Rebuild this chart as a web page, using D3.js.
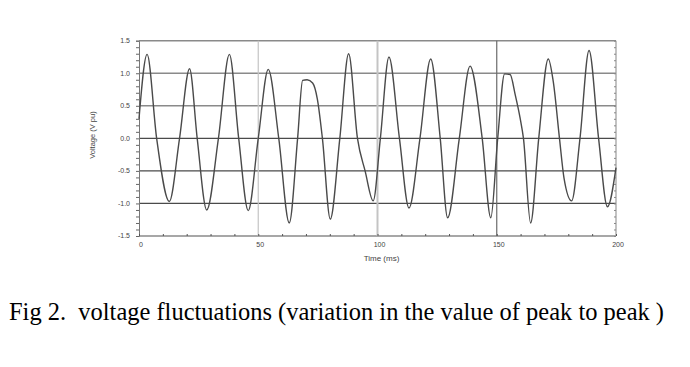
<!DOCTYPE html>
<html lang="en">
<head>
    <title>Voltage fluctuations</title>
    <meta charset="utf-8">
    <style>
        body { margin: 0; background: #fff; }
        .tick-label { font-family: "Liberation Sans", Arial, sans-serif; font-size: 7px; fill: #444; }
        .caption { font-family: "Liberation Serif", "Times New Roman", serif; white-space: pre; fill: #000; }
    </style>
    <script src="https://d3js.org/d3.v7.min.js"></script>
</head>
<body>
<div id="chart"></div>
<script>
    // time (ms) and voltage (V pu): peaks, troughs, crossings and shoulders
    const time = [0, 3.4, 7.4, 12.7, 17, 21.2, 24.4, 28.4, 33.3, 37.9, 41.8, 45.8, 50, 54.2, 58.6,
        63, 66.5, 68.6, 70.5, 72.8, 74.8, 76.9, 80.2, 84.2, 87.9, 91.6, 94.8, 98.2, 101.2, 104.8,
        109.2, 113.2, 117.8, 122.3, 126.3, 129.4, 134.3, 138.8, 143.9, 147.5, 150.4, 153.3, 155.6,
        157.8, 159.8, 161.2, 164.2, 167.6, 171.6, 173.7, 176.3, 178.2, 181.4, 184.9, 188.7, 192.7,
        196.4, 200];
    const voltage = [0.3, 1.29, 0.0, -0.97, 0.0, 1.07, 0.0, -1.1, 0.0, 1.29, 0.0, -1.11, 0.0, 1.06, 0.0,
        -1.3, 0.0, 0.89, 0.9, 0.85, 0.6, 0.0, -1.24, 0.0, 1.3, 0.0, -0.5, -0.96, 0.0, 1.25,
        0.0, -1.07, 0.0, 1.22, 0.0, -1.22, 0.0, 1.11, 0.0, -1.22, 0.0, 0.99, 0.98,
        0.66, 0.31, 0.0, -1.3, 0.0, 1.22, 0.87, 0.0, -0.61, -0.96, 0.0, 1.35, 0.0,
        -1.05, -0.45];
    const xTicks = [0, 50, 100, 150, 200];
    const yTicks = [-1.5, -1.0, -0.5, 0.0, 0.5, 1.0, 1.5];
    const caption = "Fig 2.  voltage fluctuations (variation in the value of peak to peak )";

    const data = time.map((t, i) => ({t: t, v: voltage[i]}));

    const margin = {top: 40.7, left: 139},
        width = 477,
        height = 195.3;

    const root = d3.select("#chart")
        .append("svg")
        .attr("width", 690)
        .attr("height", 367);

    const svg = root.append("g")
        .attr("transform", `translate(${margin.left},${margin.top})`);

    const x = d3.scaleLinear().domain([0, 200]).range([0, width]);
    const y = d3.scaleLinear().domain([-1.5, 1.5]).range([height, 0]);

    // horizontal grid lines
    svg.append("g")
        .selectAll("line")
        .data(yTicks)
        .join("line")
        .attr("x1", 0)
        .attr("x2", width)
        .attr("y1", d => y(d))
        .attr("y2", d => y(d))
        .attr("stroke", d => (d >= 0.5 || d === -1.5) ? "#8a8a8a" : "#4a4a4a")
        .attr("stroke-width", d => (d >= 0.5 || d === -1.5) ? 1.6 : 1.2);

    // vertical grid lines
    svg.append("g")
        .selectAll("line")
        .data([50, 100, 150])
        .join("line")
        .attr("x1", d => x(d))
        .attr("x2", d => x(d))
        .attr("y1", 0)
        .attr("y2", height)
        .attr("stroke", d => d === 150 ? "#6a6a6a" : "#c4c4c4")
        .attr("stroke-width", d => d === 100 ? 2 : 1.2);

    // right border
    svg.append("line")
        .attr("x1", width).attr("x2", width)
        .attr("y1", 0).attr("y2", height)
        .attr("stroke", "#9a9a9a")
        .attr("stroke-width", 1.2);

    // left axis with minor ticks
    const yMinor = d3.range(-15, 16).map(d => d / 10);
    svg.append("g")
        .call(d3.axisLeft(y).tickValues(yMinor).tickSize(3).tickFormat(""))
        .call(g => g.select(".domain").attr("stroke", "#777"))
        .call(g => g.selectAll(".tick line").attr("stroke", "#666"));

    // right axis minor ticks pointing inward
    svg.append("g")
        .attr("transform", `translate(${width},0)`)
        .call(d3.axisLeft(y).tickValues(yMinor).tickSize(2).tickFormat(""))
        .call(g => g.select(".domain").remove())
        .call(g => g.selectAll(".tick line").attr("stroke", "#888"));

    // bottom axis minor ticks
    svg.append("g")
        .attr("transform", `translate(0,${height})`)
        .call(d3.axisTop(x).tickValues(d3.range(0, 201, 10)).tickSize(2).tickFormat(""))
        .call(g => g.select(".domain").remove())
        .call(g => g.selectAll(".tick line").attr("stroke", "#555"));

    // y tick labels
    svg.append("g")
        .selectAll("text")
        .data(yTicks)
        .join("text")
        .attr("class", "tick-label")
        .attr("x", -9)
        .attr("y", d => y(d))
        .attr("dy", "0.35em")
        .attr("text-anchor", "end")
        .text(d => d.toFixed(1));

    // x tick labels
    svg.append("g")
        .selectAll("text")
        .data(xTicks)
        .join("text")
        .attr("class", "tick-label")
        .attr("x", d => x(d) + 2)
        .attr("y", height + 11)
        .attr("text-anchor", "middle")
        .text(d => d);

    // axis titles
    svg.append("text")
        .attr("class", "tick-label")
        .attr("x", x(100) + 4)
        .attr("y", height + 25)
        .attr("text-anchor", "middle")
        .style("font-size", "8px")
        .text("Time (ms)");

    svg.append("text")
        .attr("class", "tick-label")
        .attr("transform", `translate(-47,${y(0.05)}) rotate(-90)`)
        .attr("text-anchor", "middle")
        .attr("dy", "0.35em")
        .style("font-size", "7.5px")
        .text("Voltage (V pu)");

    // voltage trace
    svg.append("path")
        .datum(data)
        .attr("fill", "none")
        .attr("stroke", "#4a4a4a")
        .attr("stroke-width", 1.4)
        .attr("d", d3.line()
            .x(d => x(d.t))
            .y(d => y(d.v))
            .curve(d3.curveMonotoneX)
        );

    // caption
    root.append("text")
        .attr("class", "caption")
        .attr("x", 9)
        .attr("y", 320)
        .attr("font-size", "25px")
        .attr("textLength", 655)
        .attr("lengthAdjust", "spacingAndGlyphs")
        .text(caption);
</script>
</body>
</html>
